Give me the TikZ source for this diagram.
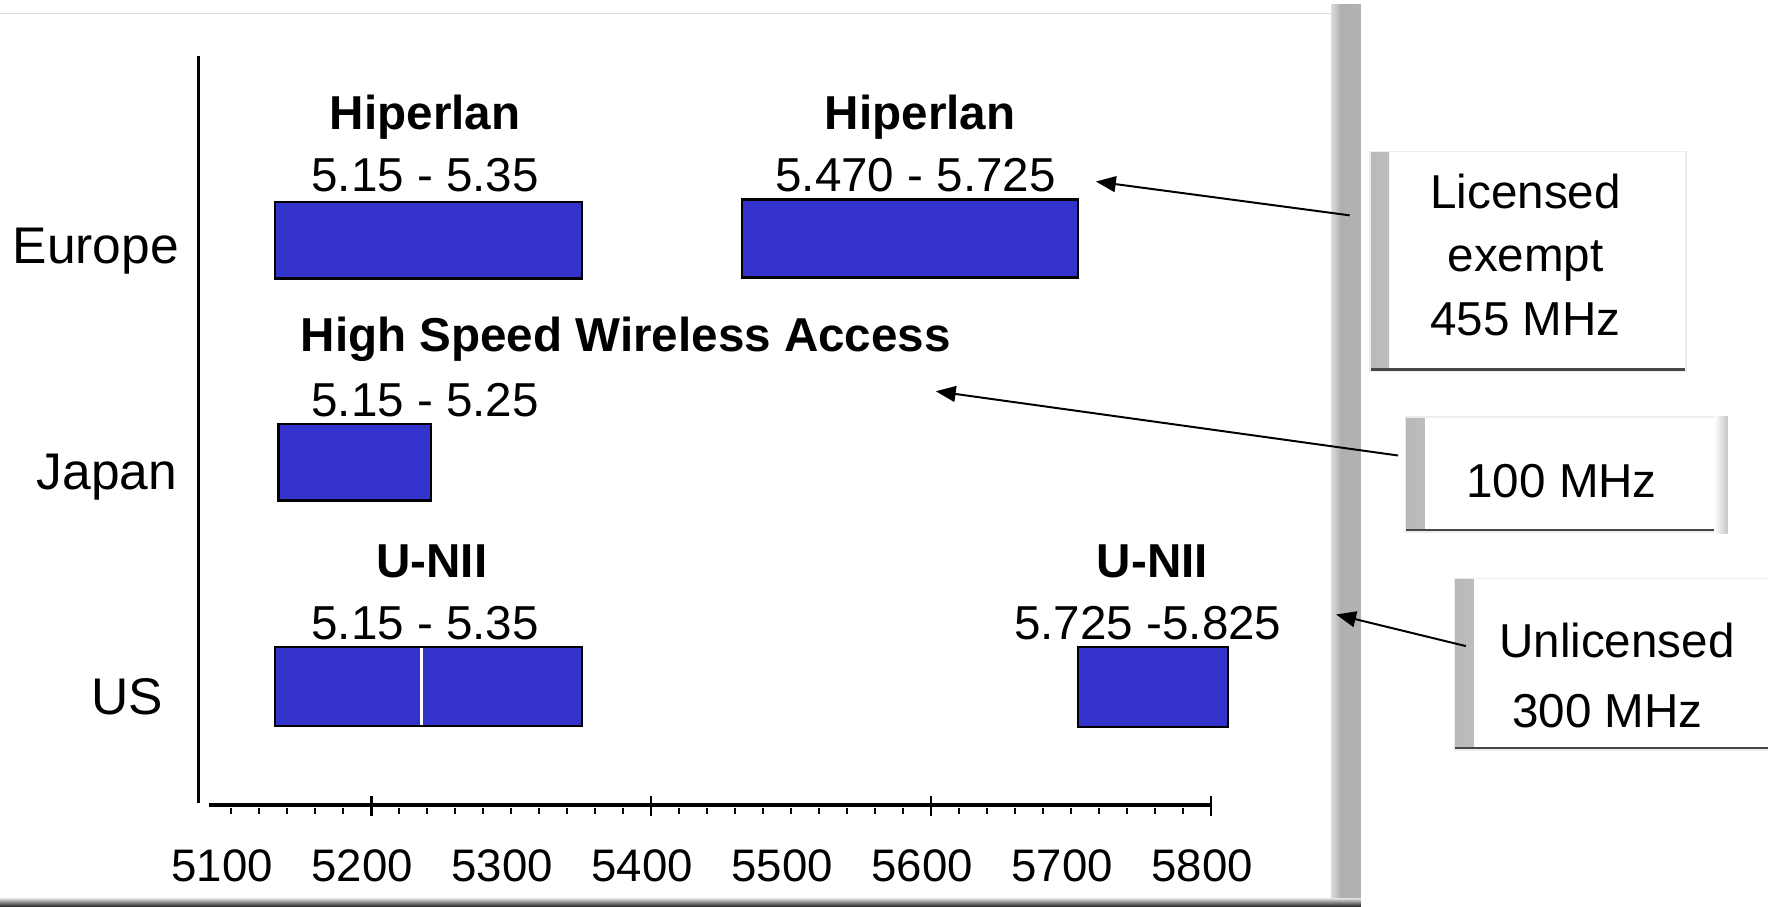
\documentclass[tikz,border=0pt]{standalone}
\usepackage{fontspec}
\setmainfont{Liberation Sans}
\usetikzlibrary{arrows.meta}
\definecolor{bandblue}{RGB}{51,51,204}
\begin{document}
\begin{tikzpicture}[x=0.01cm,y=-0.01cm,band/.style={draw=black, fill=bandblue, line width=0.6pt},band name/.style={font=\fontsize{12}{14}\selectfont\bfseries, anchor=base, inner sep=0pt},band range/.style={font=\fontsize{12}{14}\selectfont, anchor=base, inner sep=0pt},region node/.style={font=\fontsize{13}{15}\selectfont, anchor=base, inner sep=0pt},tick label/.style={font=\fontsize{11.5}{13}\selectfont, anchor=base, inner sep=0pt},note node/.style={fill=white, draw=gray!15, inner sep=0pt, path picture={\shade[left color=gray!55, right color=white] (path picture bounding box.north west) rectangle ([xshift=1.7mm]path picture bounding box.south west); \draw[line width=1.6pt, gray!55!black] (path picture bounding box.south west) -- (path picture bounding box.south east);}},note text/.style={inner sep=0pt, align=center, font=\fontsize{12}{16}\selectfont},pointer/.style={-{Triangle[length=5pt,width=4pt]}, line width=0.5pt}]%
\useasboundingbox (0,0) rectangle (1568,804);%
  % panel%
\draw[gray!25] (0,12) -- (1186,12);%
\shade[left color=gray!30, right color=gray!62] (1181,4) rectangle (1189,797);%
\shade[left color=gray!62, middle color=gray!40, right color=gray!60] (1189,4) rectangle (1207,797);%
\shade[top color=gray!30, bottom color=black!85] (0,797) rectangle (1207,804);%
  % axes%
\draw[line width=0.7pt] (176,50) -- (176,712);%
\draw[line width=0.8pt] (185,714) -- (1075,714);%
\foreach \k in {0,...,34} \draw[line width=0.5pt] (205+\k*24.83,717) -- (205+\k*24.83,722);%
\foreach \k in {0,...,3} \draw[line width=0.7pt] (329.15+\k*248.3,706) -- (329.15+\k*248.3,724);%
\foreach \v [count=\i from 0] in {5100,5200,...,5800} \node[tick label] (t\v) at (197+\i*124.15,782) {\v};%
  % Europe%
\node[region node] (europe) at (85,234) {Europe};%
\node[band name] (hip1) at (377,115) {Hiperlan};%
\node[band range] (hip1rng) at (377,170) {5.15 - 5.35};%
\draw[band] (244,179) rectangle (516,247);%
\node[band name] (hip2) at (816,115) {Hiperlan};%
\node[band range] (hip2rng) at (812,170) {5.470 - 5.725};%
\draw[band] (658,177) rectangle (956,246);%
  % Japan%
\node[region node] (japan) at (95,434) {Japan};%
\node[band name] (hswa) at (555,312) {High Speed Wireless Access};%
\node[band range] (hswarng) at (377,369) {5.15 - 5.25};%
\draw[band] (247,376) rectangle (382,444);%
  % US%
\node[region node] (us) at (113,634) {US};%
\node[band name] (unii1) at (383,512) {U-NII};%
\node[band range] (unii1rng) at (377,567) {5.15 - 5.35};%
\draw[band] (244,574) rectangle (516,644);%
\draw[white, line width=0.7pt] (374,575) -- (374,643);%
\node[band name] (unii2) at (1022,512) {U-NII};%
\node[band range] (unii2rng) at (1018,567) {5.725 -5.825};%
\draw[band] (956,574) rectangle (1089,645);%
  % notes%
\node[note node, minimum width=2.80cm, minimum height=1.95cm] (lic) at (1355,232) {};%
\node[note text] (lictext) at (1353,226) {Licensed\\ exempt\\ 455 MHz};%
\node[note node, minimum width=2.85cm, minimum height=1.02cm] (mhz) at (1389,421) {};%
\shade[left color=white, right color=gray!45] ([xshift=-1.2mm]mhz.north east) rectangle (mhz.south east);%
\node[note text] (mhztext) at (1385,427) {100 MHz};%
\node[note node, minimum width=2.90cm, minimum height=1.52cm] (unlic) at (1435,589) {};%
\node[note text, align=left, font=\fontsize{12}{17.5}\selectfont] (unlictext) at (1434,599) {Unlicensed\\ ~300 MHz};%
\coordinate (licfoot) at (1197,191);%
\coordinate (hip2tip) at (972,161);%
\coordinate (mhzfoot) at (1240,404);%
\coordinate (hswatip) at (830,347);%
\coordinate (unlicfoot) at (1300,573);%
\coordinate (unii2tip) at (1185,545);%
\draw[pointer] (licfoot) -- (hip2tip);%
\draw[pointer] (mhzfoot) -- (hswatip);%
\draw[pointer] (unlicfoot) -- (unii2tip);%
\end{tikzpicture}
\end{document}
